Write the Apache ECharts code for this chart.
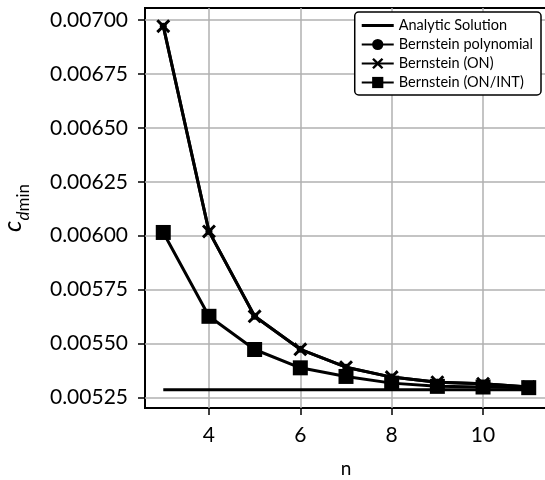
<!DOCTYPE html>
<html>
<head>
<meta charset="utf-8">
<script src="https://cdn.jsdelivr.net/npm/echarts@6/dist/echarts.min.js"></script>
<style>
  html, body { margin: 0; padding: 0; background: #fff; }
  #main { width: 545px; height: 480px; }
</style>
</head>
<body>
<div id="main"></div>
<script>
// polynomial degree n
var nValues = [3, 4, 5, 6, 7, 8, 9, 10, 11];
// minimum drag coefficient
var analytic = [0.005285, 0.005285, 0.005285, 0.005285, 0.005285, 0.005285, 0.005285, 0.005285, 0.005285];
var bernstein = [0.006972, 0.006020, 0.005626, 0.005473, 0.005390, 0.005344, 0.005320, 0.005313, 0.005298];
var bernsteinOn = [0.006972, 0.006020, 0.005626, 0.005473, 0.005390, 0.005344, 0.005320, 0.005313, 0.005298];
var bernsteinOnInt = [0.006015, 0.005626, 0.005472, 0.005387, 0.005347, 0.005316, 0.005301, 0.005298, 0.005295];
var xTicks = [4, 6, 8, 10];
var yTicks = [0.00525, 0.0055, 0.00575, 0.006, 0.00625, 0.0065, 0.00675, 0.007];

var FONT = 'Lato';
var crossPath = 'path://M0,1.5L1.5,0L5,3.5L8.5,0L10,1.5L6.5,5L10,8.5L8.5,10L5,6.5L1.5,10L0,8.5L3.5,5Z';
var lineIcon = 'path://M0,0L32,0L32,3L0,3Z';

function pairs(ys) {
  var out = [];
  for (var i = 0; i < nValues.length; i++) {
    out.push([nValues[i], ys[i]]);
  }
  return out;
}

var chart = echarts.init(document.getElementById('main'));

var option = {
  animation: false,
  backgroundColor: '#fff',
  grid: {
    left: 145,
    right: -2,
    top: 8,
    bottom: 72,
    outerBoundsMode: 'none',
    containLabel: false,
    show: true,
    borderColor: '#000',
    borderWidth: 2,
    backgroundColor: 'transparent'
  },
  xAxis: {
    type: 'value',
    min: 2.6,
    max: 11.4,
    name: 'n',
    nameLocation: 'middle',
    nameGap: 51,
    nameTextStyle: { fontFamily: FONT, fontSize: 19, color: '#000' },
    axisLine: { show: false },
    axisTick: { show: true, length: 7, lineStyle: { color: '#000', width: 1.5 }, customValues: xTicks },
    axisLabel: { fontFamily: FONT, fontSize: 21, color: '#000', margin: 17, customValues: xTicks },
    splitLine: { show: true, lineStyle: { color: '#b0b0b0', width: 1.5 } }
  },
  yAxis: {
    type: 'value',
    min: 0.0052006,
    max: 0.0070564,
    name: '{c|c}{d|d}{m|min}',
    nameLocation: 'middle',
    nameRotate: 90,
    nameGap: 113,
    nameTextStyle: {
      color: '#000',
      rich: {
        c: { fontFamily: FONT, fontSize: 25, fontStyle: 'italic', color: '#000', verticalAlign: 'bottom', padding: [0, 0, 7, 0] },
        d: { fontFamily: FONT, fontSize: 17, fontStyle: 'italic', color: '#000', verticalAlign: 'bottom' },
        m: { fontFamily: FONT, fontSize: 17, color: '#000', verticalAlign: 'bottom' }
      }
    },
    axisLine: { show: false },
    axisTick: { show: true, length: 7, lineStyle: { color: '#000', width: 1.5 }, customValues: yTicks },
    axisLabel: {
      fontFamily: FONT, fontSize: 21, color: '#000', margin: 17,
      customValues: yTicks,
      formatter: function (v) { return v.toFixed(5); }
    },
    splitLine: { show: true, lineStyle: { color: '#b0b0b0', width: 1.5 } }
  },
  legend: {
    orient: 'vertical',
    right: 4,
    top: 12,
    itemWidth: 32,
    itemHeight: 14,
    itemGap: 4,
    padding: [6, 8, 5, 6],
    backgroundColor: '#fff',
    borderColor: '#000',
    borderWidth: 1.5,
    borderRadius: 4,
    textStyle: { fontFamily: FONT, fontSize: 14.5, color: '#000' },
    data: [
      { name: 'Analytic Solution', icon: lineIcon, itemStyle: { color: '#000' } },
      'Bernstein polynomial',
      'Bernstein (ON)',
      'Bernstein (ON/INT)'
    ]
  },
  series: [
    {
      name: 'Analytic Solution',
      type: 'line',
      data: pairs(analytic),
      symbol: 'none',
      lineStyle: { color: '#000', width: 3 },
      itemStyle: { color: '#000' },
      z: 2
    },
    {
      name: 'Bernstein polynomial',
      type: 'line',
      data: pairs(bernstein),
      symbol: 'circle',
      symbolSize: 7,
      lineStyle: { color: '#000', width: 3 },
      itemStyle: { color: '#000' },
      z: 3
    },
    {
      name: 'Bernstein (ON)',
      type: 'line',
      data: pairs(bernsteinOn),
      symbol: crossPath,
      symbolSize: 14,
      lineStyle: { color: '#000', width: 3 },
      itemStyle: { color: '#000' },
      z: 4
    },
    {
      name: 'Bernstein (ON/INT)',
      type: 'line',
      data: pairs(bernsteinOnInt),
      symbol: 'rect',
      symbolSize: 15,
      lineStyle: { color: '#000', width: 3 },
      itemStyle: { color: '#000' },
      z: 5
    }
  ]
};

chart.setOption(option);
</script>
</body>
</html>
